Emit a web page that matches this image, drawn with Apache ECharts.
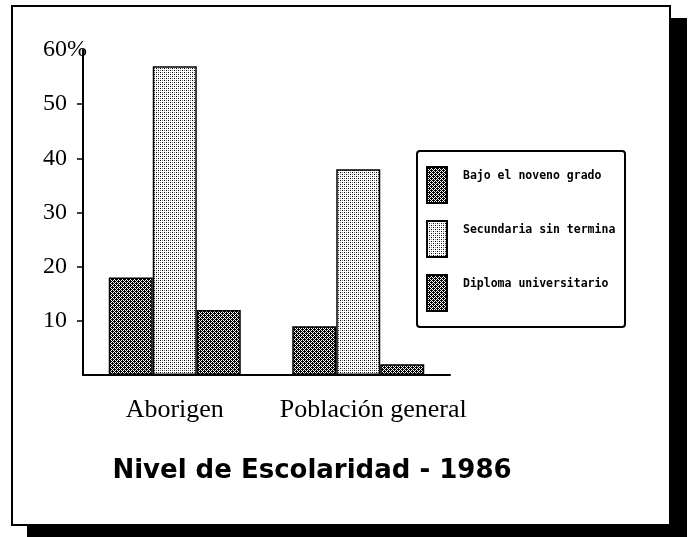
<!DOCTYPE html>
<html>
<head>
<meta charset="utf-8">
<script src="https://cdn.jsdelivr.net/npm/echarts@6/dist/echarts.min.js"></script>
<style>
  html, body { margin: 0; padding: 0; background: #fff; }
  #frame {
    position: absolute; left: 11px; top: 5px; width: 656px; height: 517px;
    border: 2px solid #000; background: #fff;
    box-shadow: 16px 13px 0 #000;
  }
  #main { position: absolute; left: 0; top: 0; width: 689px; height: 537px; }
</style>
</head>
<body>
<div id="frame"></div>
<div id="main"></div>
<script>
// data
const categories = ['Aborigen', 'Población general'];
const seriesNames = ['Bajo el noveno grado', 'Secundaria sin terminar', 'Diploma universitario'];
const bajoNoveno = [18, 9];
const secundaria = [57, 38];
const diploma = [12, 2];
const yLabelValues = [10, 20, 30, 40, 50, 60];
const yTickValues = [10, 20, 30, 40, 50];

// small canvas tiles to imitate the printed dot screens
const makePattern = (rows, bg) => {
    const c = document.createElement('canvas');
    c.width = rows[0].length;
    c.height = rows.length;
    const ctx = c.getContext('2d');
    ctx.fillStyle = bg;
    ctx.fillRect(0, 0, c.width, c.height);
    rows.forEach((row, y) => {
        row.split('').forEach((ch, x) => {
            if (ch === '#') { ctx.fillStyle = '#000'; ctx.fillRect(x, y, 1, 1); }
            if (ch === '+') { ctx.fillStyle = '#777'; ctx.fillRect(x, y, 1, 1); }
        });
    });
    return { image: c, repeat: 'repeat' };
};

const darkFill = makePattern(['#.#.', '.###', '#.#.', '##.#'], '#fff');
const lightFill = makePattern(['#.+.', '....', '+.#.', '....'], '#fff');

const serif = '"Liberation Serif", "Times New Roman", serif';

const barStyle = (fill) => ({ color: fill, borderColor: '#000', borderWidth: 1.5 });

const chart = echarts.init(document.getElementById('main'));

const option = {
    animation: false,
    backgroundColor: 'transparent',
    title: {
        text: 'Nivel de Escolaridad - 1986',
        left: 307,
        textAlign: 'center',
        top: 453,
        textStyle: { fontFamily: '"DejaVu Sans"', fontWeight: 'bold', fontSize: 26, color: '#000' }
    },
    legend: {
        orient: 'vertical',
        left: 417,
        top: 151,
        padding: [15, 5, 15, 9],
        itemWidth: 20,
        itemHeight: 36,
        itemGap: 16,
        icon: 'rect',
        borderColor: '#000',
        borderWidth: 2,
        borderRadius: 3,
        backgroundColor: '#fff',
        // second empty line pushes the name up to the top half of the swatch
        formatter: (name) => name + '\n ',
        textStyle: {
            fontFamily: '"DejaVu Sans Mono"',
            fontWeight: 'bold',
            fontSize: 11.5,
            lineHeight: 18,
            color: '#000',
            width: 157,
            overflow: 'truncate',
            ellipsis: '',
            padding: [0, 0, 0, 11]
        },
        data: seriesNames
    },
    grid: { left: 83, right: 239, top: 50, bottom: 162, containLabel: false },
    xAxis: {
        type: 'category',
        data: categories,
        axisLine: { lineStyle: { color: '#000', width: 2 } },
        axisTick: { show: false },
        axisLabel: {
            interval: 0,
            hideOverlap: false,
            margin: 22,
            color: '#000',
            fontFamily: serif,
            fontSize: 26,
            formatter: (v) => v === categories[1] ? '{s|' + v + '}' : v,
            rich: { s: { fontFamily: serif, fontSize: 26, color: '#000', padding: [0, 0, 0, 30] } }
        }
    },
    yAxis: {
        type: 'value',
        min: 0,
        max: 60,
        interval: 10,
        splitLine: { show: false },
        axisLine: { show: true, lineStyle: { color: '#000', width: 2 } },
        axisTick: { show: true, length: 6, customValues: yTickValues, lineStyle: { color: '#000', width: 1.5 } },
        axisLabel: {
            margin: -4,
            customValues: yLabelValues,
            formatter: (v) => v === 60 ? '{n|60}{p|%}' : '{n|' + v + '}{e| }',
            rich: {
                n: { fontFamily: serif, fontSize: 24, color: '#000' },
                p: { fontFamily: serif, fontSize: 24, color: '#000' },
                e: { fontFamily: serif, fontSize: 24, width: 20 }
            }
        }
    },
    series: [
        { name: seriesNames[0], type: 'bar', data: bajoNoveno, barWidth: 44, barGap: '0%', itemStyle: barStyle(darkFill) },
        { name: seriesNames[1], type: 'bar', data: secundaria, barWidth: 44, barGap: '0%', itemStyle: barStyle(lightFill) },
        { name: seriesNames[2], type: 'bar', data: diploma, barWidth: 44, barGap: '0%', itemStyle: barStyle(darkFill) }
    ]
};

chart.setOption(option);
window.addEventListener('resize', () => chart.resize());
</script>
</body>
</html>
